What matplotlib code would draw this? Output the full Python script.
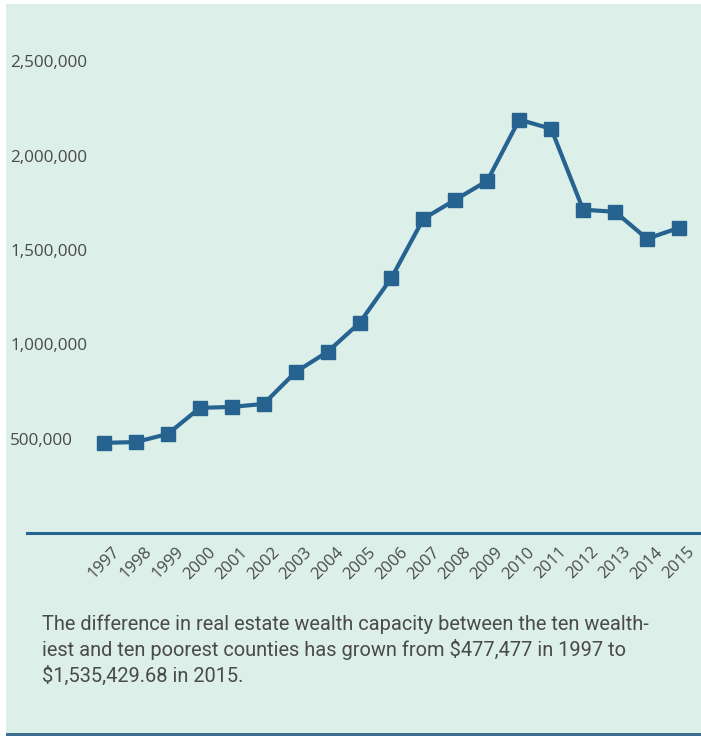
import matplotlib.pyplot as plt
from matplotlib.patches import Rectangle
from matplotlib.ticker import FuncFormatter

# -------------- Data --------------
years = ['1997', '1998', '1999', '2000', '2001', '2002', '2003', '2004', '2005', '2006',
         '2007', '2008', '2009', '2010', '2011', '2012', '2013', '2014', '2015']
wealth_gap = [477477, 482000, 525000, 663000, 668000, 684000, 853000, 960000, 1113000, 1352000,
              1665000, 1766000, 1866000, 2190000, 2142000, 1713000, 1702000, 1559000, 1617000]
y_ticks = [500000, 1000000, 1500000, 2000000, 2500000]
caption = ("The difference in real estate wealth capacity between the ten wealth-\n"
           "iest and ten poorest counties has grown from $477,477 in 1997 to\n"
           "$1,535,429.68 in 2015.")

bg = '#dcefe8'
blue = '#266391'
grey = '#4a4a4a'

W, H = 701, 736
fig = plt.figure(figsize=(W / 100, H / 100), dpi=100)
fig.patch.set_facecolor('white')

# mint panel + dark bottom rule (kept behind the axes)
fig.patches.append(Rectangle((6 / W, 3 / H), 695 / W, 729 / H, transform=fig.transFigure,
                             facecolor=bg, edgecolor='none', zorder=-5))
fig.patches.append(Rectangle((6 / W, 0), 695 / W, 3 / H, transform=fig.transFigure,
                             facecolor='#3e6f8f', edgecolor='none', zorder=-5))

# axes placed in pixel terms: zero line at y=533, x from 27 to 701
ax = fig.add_axes([27 / W, (H - 533) / H, 674 / W, 519 / H])
ax.set_facecolor('none')

x = list(range(len(years)))
ax.plot(x, wealth_gap, color=blue, linewidth=3, marker='s', markersize=10,
        markerfacecolor=blue, markeredgecolor=blue, solid_joinstyle='miter')

ax.set_ylim(0, 2750000)
ax.set_xlim(-2.41, 18.69)

for side in ['top', 'right', 'left']:
    ax.spines[side].set_visible(False)
ax.spines['bottom'].set_color(blue)
ax.spines['bottom'].set_linewidth(2.2)

# y labels start at x=10px, i.e. 17px left of the axes edge
ax.set_yticks(y_ticks)
ax.yaxis.set_major_formatter(FuncFormatter(lambda v, p: f'{int(v):,}'))
ax.tick_params(axis='y', length=0, pad=12.2, labelsize=12.3, labelcolor=grey)
for lbl in ax.get_yticklabels():
    lbl.set_horizontalalignment('left')

ax.set_xticks(x)
ax.set_xticklabels(years, rotation=45, ha='center')
ax.tick_params(axis='x', length=0, pad=8, labelsize=12, labelcolor=grey)

fig.text(42 / W, 1 - 614 / H, caption, ha='left', va='top', fontsize=14.4,
         color=grey, linespacing=1.35, family='Roboto')

for lbl in ax.get_xticklabels() + ax.get_yticklabels():
    lbl.set_family('Open Sans')

plt.savefig('out.png', dpi=100, facecolor='white')
